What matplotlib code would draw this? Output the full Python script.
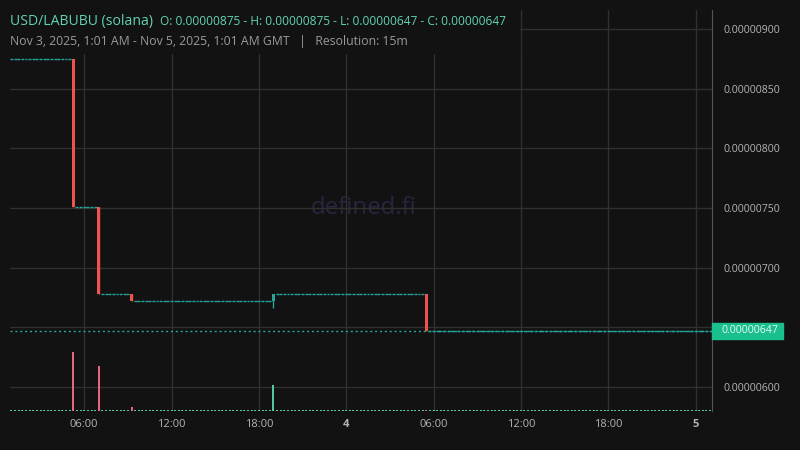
import matplotlib
matplotlib.use("Agg")
import matplotlib.pyplot as plt
import matplotlib.dates as mdates
from matplotlib.patches import Rectangle
import pandas as pd

# chart data (price in USD per LABUBU, 15m candles)
first_candle = "2025-11-03 01:00"
last_candle = "2025-11-05 01:00"
start_price = 8.75e-6

# candles where the price moved, every other candle is flat
event_times = ["2025-11-03 05:15", "2025-11-03 07:00", "2025-11-03 09:15",
               "2025-11-03 19:00", "2025-11-04 05:30"]
event_open = [8.75e-6, 7.51e-6, 6.78e-6, 6.72e-6, 6.78e-6]
event_high = [8.75e-6, 7.51e-6, 6.78e-6, 6.78e-6, 6.78e-6]
event_low = [7.51e-6, 6.78e-6, 6.72e-6, 6.66e-6, 6.47e-6]
event_close = [7.51e-6, 6.78e-6, 6.72e-6, 6.78e-6, 6.47e-6]
event_volume = [1180, 900, 80, 520, 30]
flat_volume = 24

last_close = 6.47e-6
yticks = [6.0e-6, 6.5e-6, 7.0e-6, 7.5e-6, 8.0e-6, 8.5e-6, 9.0e-6]
ytick_labels = ["0.00000600", "", "0.00000700", "0.00000750",
                "0.00000800", "0.00000850", "0.00000900"]
xtick_times = ["2025-11-03 06:00", "2025-11-03 12:00", "2025-11-03 18:00",
               "2025-11-04 00:00", "2025-11-04 06:00", "2025-11-04 12:00",
               "2025-11-04 18:00", "2025-11-05 00:00"]
xtick_labels = ["06:00", "12:00", "18:00", "4", "06:00", "12:00", "18:00", "5"]

BG = "#121212"
GRID = "#303030"
UP = "#26a69a"
DOWN = "#ef5350"
VOL_UP = "#52c7a4"
VOL_DOWN = "#e8677a"
TEAL_TXT = "#62d3b3"

plt.rcParams["font.family"] = ["Open Sans", "DejaVu Sans"]

# build the candle table: flat candles carry the last close forward
times = pd.date_range(first_candle, last_candle, freq="15min")
events = pd.DataFrame({"open": event_open, "high": event_high, "low": event_low,
                       "close": event_close, "volume": event_volume},
                      index=pd.to_datetime(event_times))
rows = []
price = start_price
for t in times:
    if t in events.index:
        e = events.loc[t]
        rows.append((t, e.open, e.high, e.low, e.close, e.volume))
        price = e.close
    else:
        rows.append((t, price, price, price, price, flat_volume))
df = pd.DataFrame(rows, columns=["time", "open", "high", "low", "close", "volume"])
x = mdates.date2num(df["time"])

fig = plt.figure(figsize=(8, 4.5), dpi=100, facecolor=BG)
ax = fig.add_axes([10 / 800, 39 / 450, 702 / 800, 401 / 450])
ax.set_facecolor(BG)

# volume overlay (twinx first, it resets the tick side of ax)
vax = ax.twinx()
vax.set_ylim(0, max(event_volume) / 0.147)
vax.axis("off")

w = 0.8 / 96
flat = df["open"] == df["close"]
up = df["close"] > df["open"]
down = df["close"] < df["open"]

# flat candles as short dashes
ax.hlines(df.loc[flat, "close"], x[flat] - w / 2, x[flat] + w / 2,
          color=UP, lw=1, zorder=3)
# wicks
moved = ~flat
ax.vlines(x[moved], df.loc[moved, "low"], df.loc[moved, "high"],
          color=[UP if u else DOWN for u in up[moved]], lw=1, zorder=3)
ax.bar(x[up], df.loc[up, "close"] - df.loc[up, "open"], bottom=df.loc[up, "open"],
       width=w, color=UP, zorder=4)
ax.bar(x[down], df.loc[down, "close"] - df.loc[down, "open"], bottom=df.loc[down, "open"],
       width=w, color=DOWN, zorder=4)

# last price line
ax.axhline(last_close, color=UP, lw=1, ls=(0, (1.5, 2)), zorder=2)

ax.set_xlim(mdates.datestr2num("2025-11-03 00:54"), mdates.datestr2num("2025-11-05 01:08"))
ax.set_ylim(5.799e-6, 9.159e-6)

ax.set_yticks(yticks)
ax.set_yticklabels(ytick_labels)
ax.set_xticks(mdates.datestr2num(xtick_times))
ax.set_xticklabels(xtick_labels)
for lbl in ax.get_xticklabels():
    if lbl.get_text() in ("4", "5"):
        lbl.set_fontweight("bold")
ax.tick_params(axis="both", length=0, colors="#b4b4b4", labelsize=8)
ax.tick_params(axis="y", pad=8, labelsize=7.6, left=False, labelleft=False,
               right=True, labelright=True)
ax.tick_params(axis="x", pad=6)
ax.grid(True, color=GRID, lw=1, zorder=0)
ax.set_axisbelow(True)
for s in ["top", "left", "bottom"]:
    ax.spines[s].set_visible(False)
ax.spines["right"].set_color("#555555")

# legend area hides the grid behind the title
ax.add_patch(Rectangle((0, 0.893), 0.725, 0.2, transform=ax.transAxes,
                       color=BG, zorder=1, clip_on=True))

vw = 0.55 / 96
vcol = [VOL_DOWN if d else VOL_UP for d in down]
vax.bar(x, df["volume"], width=vw, color=vcol)

# watermark, sits under the grid
ax.text(0.503, 0.505, "defined.fi", transform=ax.transAxes, ha="center", va="center",
        fontsize=17.3, color="#282540", zorder=0.3)

# price tag on the right axis
fig.canvas.draw()
py = ax.transData.transform((0, last_close))[1]
fig.patches.append(Rectangle((712 / 800, (py - 8) / 450), 71 / 800, 16 / 450,
                             transform=fig.transFigure, color="#19bf8d"))
fig.text(721 / 800, py / 450, "0.00000647", ha="left", va="center",
         fontsize=7.6, color="#eafaf4")

# header
fig.text(10 / 800, (450 - 25) / 450, "USD/LABUBU (solana)", fontsize=10.1,
         color=TEAL_TXT, va="baseline")
fig.text(160 / 800, (450 - 25) / 450,
         "O: 0.00000875 - H: 0.00000875 - L: 0.00000647 - C: 0.00000647",
         fontsize=8.6, color=TEAL_TXT, va="baseline")
fig.text(10 / 800, (450 - 44.5) / 450,
         "Nov 3, 2025, 1:01 AM - Nov 5, 2025, 1:01 AM GMT   |   Resolution: 15m",
         fontsize=8.8, color="#9a9a9a", va="baseline")

fig.savefig("out.png", dpi=100, facecolor=BG)
